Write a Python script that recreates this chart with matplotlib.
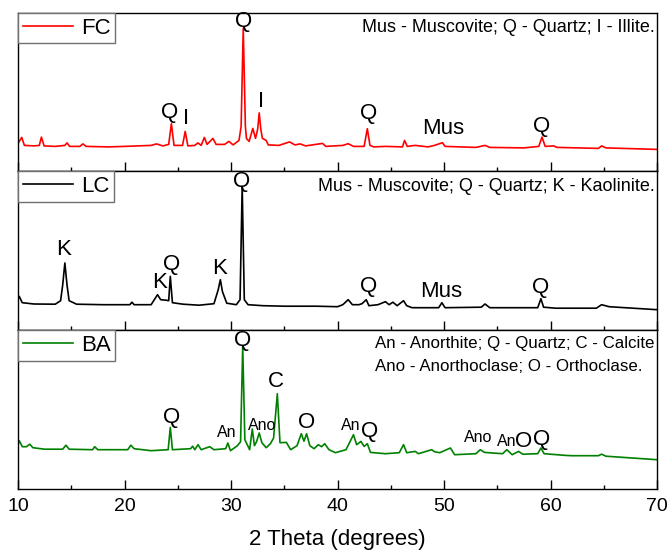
import matplotlib
matplotlib.use('Agg')
import matplotlib.pyplot as plt
from matplotlib.ticker import MultipleLocator

plt.rcParams['font.family'] = ['Liberation Sans', 'DejaVu Sans']

# --- data (2theta, intensity in a.u.) ---
fc_x = [10.0, 10.35, 10.6, 11.5, 12.0, 12.2, 12.45, 13.5, 14.4, 14.6, 14.85, 15.8, 16.1, 16.4, 18.5, 20.0,
        22.5, 23.0, 23.6, 24.15, 24.4, 24.65, 25.45, 25.7, 25.95, 26.6, 26.9, 27.2, 27.5, 27.75, 28.3, 28.6,
        29.4, 29.8, 30.2, 30.75, 30.95, 31.15, 31.35, 31.45, 31.7, 32.05, 32.3, 32.5, 32.65, 32.8, 32.95, 33.3,
        33.5, 34.5, 35.5, 36.0, 36.5, 37.0, 38.6, 38.9, 40.5, 41.0, 41.5, 42.5, 42.8, 43.05, 43.4, 44.5,
        46.1, 46.3, 46.55, 47.3, 48.5, 49.1, 49.85, 50.1, 53.0, 53.85, 54.3, 57.5, 58.9, 59.2, 59.5, 60.3,
        60.6, 64.5, 64.8, 65.2, 70.0]
fc_y = [28, 34, 26, 25.5, 26, 34.3, 25.5, 25, 26, 28.5, 25, 25, 27.5, 25, 24.5, 25,
        26, 27.5, 25.5, 27, 47.7, 26, 26, 40, 25.5, 26, 28.5, 26, 34, 27, 33, 27,
        27, 30, 26.5, 31, 45, 143, 45, 33, 30, 43, 33, 42, 58.5, 42, 33, 31,
        26.5, 26, 29.5, 26.5, 27.5, 25.5, 28, 25, 26, 27.7, 25, 25, 42.7, 26, 24.5, 25,
        24.5, 31, 25, 26, 24.5, 26, 28.7, 25, 24, 26, 24, 23.5, 25, 34.3, 25, 25.5,
        24, 23, 25.5, 23.5, 22]

lc_x = [10.0, 10.12, 10.4, 11.5, 13.5, 14.0, 14.2, 14.4, 14.6, 14.8, 15.5, 18.0, 20.5, 20.7, 20.9, 22.5,
        23.1, 23.4, 23.9, 24.15, 24.3, 24.5, 25.5, 27.0, 28.4, 28.8, 29.0, 29.2, 29.6, 30.5, 30.85, 31.05,
        31.25, 31.6, 33.0, 35.0, 38.0, 40.0, 40.5, 41.0, 41.4, 42.0, 42.3, 42.7, 42.95, 43.8, 44.5, 44.85,
        45.2, 45.6, 46.2, 46.5, 47.0, 49.5, 49.8, 50.1, 53.5, 53.85, 54.3, 58.8, 59.1, 59.35, 60.5, 64.3,
        64.8, 65.5, 70.0]
lc_y = [30, 33.3, 27, 25.7, 25.5, 29, 45, 66.7, 45, 29, 25.5, 25, 25, 27.5, 25, 25,
        35, 30, 29.5, 29, 53.3, 27, 25.5, 24.5, 26, 40, 50, 38, 26.5, 25, 30, 143.3,
        30, 25, 24, 23.5, 23.5, 23, 25, 30, 25, 25, 26, 30, 24, 25, 28, 25,
        27.5, 24, 29, 24, 22, 22, 27, 22, 22.5, 25.7, 22, 22, 31, 22.5, 21.5, 21.5,
        25, 23, 20]

ba_x = [10.0, 10.12, 10.4, 10.8, 11.1, 11.4, 12.5, 14.2, 14.5, 14.8, 17.0, 17.2, 17.5, 20.3, 20.6, 20.9,
        22.5, 24.1, 24.3, 24.5, 26.2, 26.4, 26.6, 26.9, 27.2, 28.0, 28.4, 29.5, 29.7, 29.95, 30.6, 30.9,
        31.1, 31.3, 31.75, 32.0, 32.2, 32.4, 32.65, 32.9, 33.3, 33.7, 34.0, 34.35, 34.6, 35.2, 35.6, 36.2,
        36.6, 36.85, 37.1, 37.4, 37.8, 38.2, 38.5, 38.8, 39.2, 39.8, 40.8, 41.5, 41.8, 42.2, 42.5, 42.8,
        43.1, 44.5, 45.8, 46.2, 46.5, 47.3, 47.6, 48.85, 49.1, 49.6, 50.6, 51.0, 53.0, 53.4, 53.8, 55.5,
        55.9, 56.4, 57.0, 57.4, 58.8, 59.1, 59.4, 61.4, 62.0, 64.5, 64.8, 65.2, 70.0]
ba_y = [44, 48, 42, 42, 44.5, 41, 39.5, 39.5, 43.5, 39.5, 39, 42, 39, 39, 43.5, 40,
        38, 39, 61.3, 39, 40, 42.5, 39, 44, 39, 42, 39, 40, 45.7, 38, 43, 47,
        143, 49, 39, 59.7, 43, 47, 55.7, 46, 41, 45, 50.7, 95, 46, 46.3, 39, 43,
        55, 47.5, 55, 43, 40, 44, 42, 45, 39, 36, 39, 54, 44, 47.3, 42.3, 45,
        36.3, 35, 36, 44, 36, 37.3, 35, 39, 37, 36, 40.7, 34, 35, 39, 36.3, 35,
        39, 34, 37.3, 34.5, 35, 40.7, 35, 33.3, 33, 33, 34.5, 32.5, 29]

# peak labels: (text, 2theta, height, fontsize)
fc_labels = [('Q', 31.15, 149.5, 16), ('Q', 24.27, 59.3, 16), ('I', 25.8, 52.5, 16), ('I', 32.8, 70, 16),
             ('Q', 42.9, 57.5, 16), ('Mus', 49.9, 42.5, 16), ('Q', 59.2, 45, 16)]
lc_labels = [('Q', 31.0, 148.5, 16), ('K', 14.25, 80, 16), ('K', 23.27, 47, 16), ('Q', 24.43, 65, 16),
             ('K', 28.97, 61, 16), ('Q', 42.9, 43.5, 16), ('Mus', 49.7, 38, 16), ('Q', 59.1, 42, 16)]
ba_labels = [('Q', 31.1, 148, 16), ('Q', 24.43, 71.5, 16), ('An', 29.6, 56, 11.5), ('Ano', 32.97, 63, 11.5),
             ('C', 34.2, 107, 16), ('O', 37.1, 66.5, 16), ('An', 41.27, 63, 11.5), ('Q', 43.05, 57, 16),
             ('Ano', 53.2, 51, 11.5), ('An', 55.9, 47.5, 11.5), ('O', 57.5, 47.5, 16), ('Q', 59.2, 49, 16)]

panels = [
    ('FC', fc_x, fc_y, 'red', fc_labels, 'Mus - Muscovite; Q - Quartz; I - Illite.'),
    ('LC', lc_x, lc_y, 'black', lc_labels, 'Mus - Muscovite; Q - Quartz; K - Kaolinite.'),
    ('BA', ba_x, ba_y, '#008000', ba_labels, None),
]

fig = plt.figure(figsize=(6.69, 5.51), dpi=100)
W, H = 669.0, 551.0
left, right = 18 / W, 657 / W
tops = [12.7, 171.0, 330.0]
ph = 158.7

axes = []
for i, (name, xs, ys, col, labels, note) in enumerate(panels):
    bottom = 1 - (tops[i] + ph) / H
    ax = fig.add_axes([left, bottom, right - left, ph / H])
    ax.plot(xs, ys, color=col, lw=1.2, label=name)
    ax.set_xlim(10, 70)
    ax.set_ylim(0, 158.7)
    ax.set_yticks([])
    ax.xaxis.set_major_locator(MultipleLocator(10))
    ax.xaxis.set_minor_locator(MultipleLocator(5))
    ax.tick_params(axis='x', which='major', direction='in', length=6.3, width=1, labelsize=14, pad=7)
    ax.tick_params(axis='x', which='minor', direction='in', length=3.2, width=1)
    if i < 2:
        ax.tick_params(axis='x', labelbottom=False)
    for s in ax.spines.values():
        s.set_linewidth(1.0)
    for txt, x, y, fs in labels:
        ax.text(x, y, txt, fontsize=fs, ha='center', va='center')
    leg = ax.legend(loc='upper left', borderaxespad=0, fancybox=False, fontsize=16,
                    handlelength=2.25, handletextpad=0.35, borderpad=0.22, framealpha=1)
    leg.get_frame().set_edgecolor('#707070')
    leg.get_frame().set_linewidth(1.0)
    if note:
        ax.text(0.996, 0.905, note, transform=ax.transAxes, ha='right', va='center', fontsize=13)
    axes.append(ax)

axes[2].text(43.5, 145.5, 'An - Anorthite; Q - Quartz; C - Calcite', ha='left', va='center', fontsize=12.2)
axes[2].text(43.5, 122.5, 'Ano - Anorthoclase; O - Orthoclase.', ha='left', va='center', fontsize=12.2)
axes[2].set_xlabel('2 Theta (degrees)', fontsize=16, labelpad=10)

fig.savefig('out.png', dpi=100)
